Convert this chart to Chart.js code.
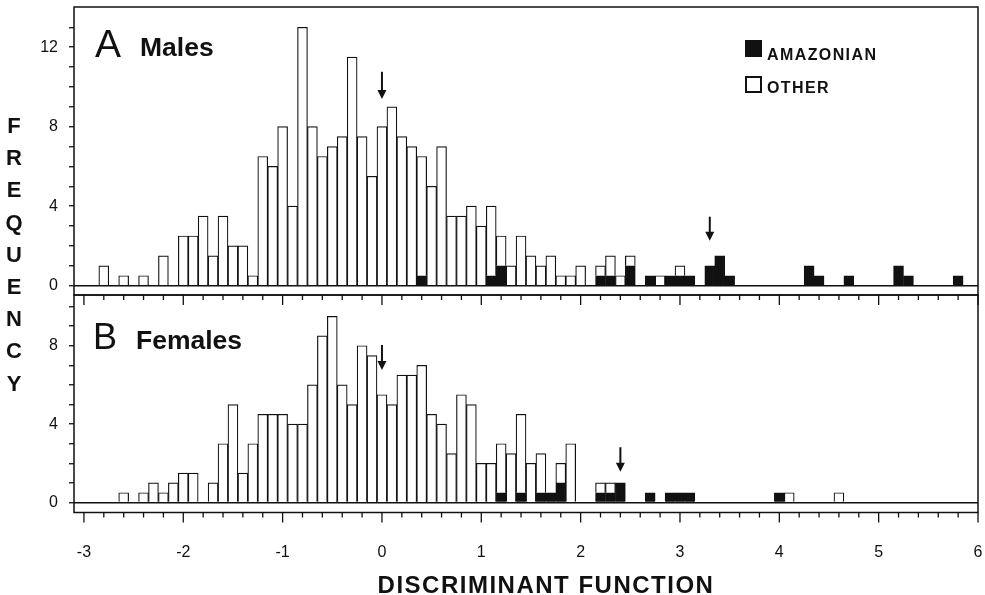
<!DOCTYPE html>
<html>
<head>
<meta charset="utf-8">
<script src="https://cdn.jsdelivr.net/npm/chart.js@4.4.1/dist/chart.umd.min.js"></script>
<style>
  body { margin: 0; background: #fff; }
  #wrap { position: relative; width: 985px; height: 595px; font-family: "Liberation Sans", Arial, sans-serif; color: #111; }
  canvas { position: absolute; left: 0; }
  .lbl { position: absolute; line-height: 1; white-space: nowrap; }
  .key { position: absolute; width: 17px; height: 17px; box-sizing: border-box; }
  #freq { position: absolute; left: 0; top: 110px; width: 28px; text-align: center; font-weight: bold; font-size: 22px; line-height: 32.2px; }
</style>
</head>
<body>
<div id="wrap">
  <canvas id="chartA" width="985" height="300" style="top:0"></canvas>
  <canvas id="chartB" width="985" height="305" style="top:290px"></canvas>

  <div class="lbl" style="left:95px;top:24px;font-size:39px;">A</div>
  <div class="lbl" style="left:140px;top:34px;font-size:26.5px;font-weight:bold;">Males</div>
  <div class="lbl" style="left:93px;top:319px;font-size:36px;">B</div>
  <div class="lbl" style="left:136px;top:327px;font-size:26.5px;font-weight:bold;">Females</div>

  <div class="key" style="left:745px;top:40px;background:#111;"></div>
  <div class="lbl" style="left:767px;top:46.5px;font-size:16px;font-weight:bold;letter-spacing:1.4px;">AMAZONIAN</div>
  <div class="key" style="left:745px;top:76px;border:2px solid #111;background:#fff;"></div>
  <div class="lbl" style="left:767px;top:79.5px;font-size:16px;font-weight:bold;letter-spacing:1.4px;">OTHER</div>

  <div id="freq">F<br>R<br>E<br>Q<br>U<br>E<br>N<br>C<br>Y</div>
  <div class="lbl" style="left:346px;top:573px;width:400px;text-align:center;font-size:24px;font-weight:bold;letter-spacing:1.5px;">DISCRIMINANT FUNCTION</div>
</div>

<script>
// histogram bins: centres every 0.1 from -2.9 to 5.9
const binStart = -2.9;
const binStep = 0.1;
const binCount = 89;

// Panel A (males), frequency per bin, rows of ten bins
const maleOther = [
  0, 1, 0, 0.5, 0, 0.5, 0, 1.5, 0, 2.5,        // -2.9 .. -2.0
  2.5, 3.5, 1.5, 3.5, 2, 2, 0.5, 6.5, 6, 8,     // -1.9 .. -1.0
  4, 13, 8, 6.5, 7, 7.5, 11.5, 7.5, 5.5, 8,     // -0.9 .. 0.0
  9, 7.5, 7, 6, 5, 7, 3.5, 3.5, 4, 3,           //  0.1 .. 1.0
  3.5, 1.5, 1, 2.5, 1.5, 1, 1.5, 0.5, 0.5, 1,   //  1.1 .. 2.0
  0, 0.5, 1, 0.5, 0.5, 0, 0, 0.5, 0, 0.5,       //  2.1 .. 3.0
  0, 0, 0, 0, 0, 0, 0, 0, 0, 0,                 //  3.1 .. 4.0
  0, 0, 0, 0, 0, 0, 0, 0, 0, 0,                 //  4.1 .. 5.0
  0, 0, 0, 0, 0, 0, 0, 0, 0                     //  5.1 .. 5.9
];
const maleAmazon = [
  0, 0, 0, 0, 0, 0, 0, 0, 0, 0,
  0, 0, 0, 0, 0, 0, 0, 0, 0, 0,
  0, 0, 0, 0, 0, 0, 0, 0, 0, 0,
  0, 0, 0, 0.5, 0, 0, 0, 0, 0, 0,
  0.5, 1, 0, 0, 0, 0, 0, 0, 0, 0,
  0, 0.5, 0.5, 0, 1, 0, 0.5, 0, 0.5, 0.5,
  0.5, 0, 1, 1.5, 0.5, 0, 0, 0, 0, 0,
  0, 0, 1, 0.5, 0, 0, 0.5, 0, 0, 0,
  0, 1, 0.5, 0, 0, 0, 0, 0.5, 0
];

// Panel B (females)
const femaleOther = [
  0, 0, 0, 0.5, 0, 0.5, 1, 0.5, 1, 1.5,
  1.5, 0, 1, 3, 5, 1.5, 3, 4.5, 4.5, 4.5,
  4, 4, 6, 8.5, 9.5, 6, 5, 8, 7.5, 5.5,
  5, 6.5, 6.5, 7, 4.5, 4, 2.5, 5.5, 5, 2,
  2, 2.5, 2.5, 4, 2, 2, 0, 1, 3, 0,
  0, 0.5, 0.5, 0, 0, 0, 0, 0, 0, 0,
  0, 0, 0, 0, 0, 0, 0, 0, 0, 0,
  0.5, 0, 0, 0, 0, 0.5, 0, 0, 0, 0,
  0, 0, 0, 0, 0, 0, 0, 0, 0
];
const femaleAmazon = [
  0, 0, 0, 0, 0, 0, 0, 0, 0, 0,
  0, 0, 0, 0, 0, 0, 0, 0, 0, 0,
  0, 0, 0, 0, 0, 0, 0, 0, 0, 0,
  0, 0, 0, 0, 0, 0, 0, 0, 0, 0,
  0, 0.5, 0, 0.5, 0, 0.5, 0.5, 1, 0, 0,
  0, 0.5, 0.5, 1, 0, 0, 0.5, 0, 0.5, 0.5,
  0.5, 0, 0, 0, 0, 0, 0, 0, 0, 0.5,
  0, 0, 0, 0, 0, 0, 0, 0, 0, 0,
  0, 0, 0, 0, 0, 0, 0, 0, 0
];

// group means marked by arrows
const arrowXA = [0, 3.3];
const arrowTopA = [10.76, 3.47];
const arrowTipA = [9.39, 2.26];
const arrowXB = [0, 2.4];
const arrowTopB = [8.04, 2.82];
const arrowTipB = [6.76, 1.57];

// axes
const xLabels = [-3, -2, -1, 0, 1, 2, 3, 4, 5, 6];
const yLabelsA = [0, 4, 8, 12];
const yLabelsB = [0, 4, 8];
const xMin = -3.1, xMax = 6;
const xMinorStep = 0.2;

const ink = '#111';
const family = '"Liberation Sans", Arial, sans-serif';

const bins = [];
for (let i = 0; i < binCount; i++) bins.push(Math.round((binStart + i * binStep) * 10) / 10);

function points(vals) {
  return bins.map((x, i) => ({ x: x, y: vals[i] ? vals[i] : null }));
}

function panelPlugin(arrowX, arrowTop, arrowTip, withXTicks) {
  return {
    id: 'panelFrame',
    afterDatasetsDraw(chart) {
      const { ctx, chartArea: a } = chart;
      const x = chart.scales.x, y = chart.scales.y;
      ctx.save();
      ctx.strokeStyle = ink;
      ctx.lineWidth = 1.5;
      ctx.strokeRect(a.left, a.top, a.right - a.left, a.bottom - a.top);

      if (withXTicks) {
        ctx.lineWidth = 1.3;
        ctx.beginPath();
        const n = Math.round((xLabels[xLabels.length - 1] - xLabels[0]) / xMinorStep);
        for (let k = 0; k <= n; k++) {
          const v = Math.round((xLabels[0] + k * xMinorStep) * 10) / 10;
          const px = x.getPixelForValue(v);
          const len = Number.isInteger(v) ? 10 : 5;
          ctx.moveTo(px, a.top); ctx.lineTo(px, a.top + len);
          ctx.moveTo(px, a.bottom); ctx.lineTo(px, a.bottom + len);
        }
        ctx.stroke();
      }

      ctx.fillStyle = ink;
      arrowX.forEach((ax, i) => {
        const px = x.getPixelForValue(ax);
        const y0 = y.getPixelForValue(arrowTop[i]);
        const y1 = y.getPixelForValue(arrowTip[i]);
        ctx.lineWidth = 2;
        ctx.beginPath();
        ctx.moveTo(px, y0);
        ctx.lineTo(px, y1 - 7);
        ctx.stroke();
        ctx.beginPath();
        ctx.moveTo(px - 4.5, y1 - 9);
        ctx.lineTo(px + 4.5, y1 - 9);
        ctx.lineTo(px, y1);
        ctx.closePath();
        ctx.fill();
      });
      ctx.restore();
    }
  };
}

function noPad(s) {
  s.paddingTop = 0; s.paddingBottom = 0; s.paddingLeft = 0; s.paddingRight = 0;
}

function buildChart(id, other, amazon, yMin, yMax, yTopTick, yLabels, arrows, bottomPanel) {
  const bar = { borderColor: ink, borderWidth: 1.2, barPercentage: 1, categoryPercentage: 1, stack: 's' };
  return new Chart(document.getElementById(id), {
    type: 'bar',
    data: {
      datasets: [
        Object.assign({ label: 'AMAZONIAN', data: points(amazon), backgroundColor: ink }, bar),
        Object.assign({ label: 'OTHER', data: points(other), backgroundColor: '#fff' }, bar)
      ]
    },
    options: {
      responsive: false,
      animation: false,
      devicePixelRatio: 1,
      events: [],
      layout: { autoPadding: false, padding: { left: 0, right: 7, top: bottomPanel ? 5 : 7, bottom: bottomPanel ? 0 : 5 } },
      plugins: { legend: { display: false }, tooltip: { enabled: false } },
      scales: {
        x: {
          type: 'linear', min: xMin, max: xMax, offset: false, stacked: true,
          display: bottomPanel,
          grid: { display: false, offset: false },
          border: { display: false },
          ticks: {
            stepSize: 1, includeBounds: false, autoSkip: false, maxRotation: 0,
            padding: 22, color: ink, font: { size: 16, family: family },
            callback: v => xLabels.includes(v) ? String(v) : ''
          },
          afterFit: s => { s.height = bottomPanel ? 82.5 : 0; noPad(s); }
        },
        y: {
          type: 'linear', min: yMin, max: yMax, stacked: true,
          border: { display: false },
          grid: {
            color: c => (c.tick && c.tick.value === 0) ? ink : 'rgba(0,0,0,0)',
            lineWidth: 1.5, tickLength: 5, tickColor: ink, tickWidth: 1.3
          },
          ticks: {
            stepSize: 1, includeBounds: false, autoSkip: false,
            padding: 11, color: ink, font: { size: 16, family: family },
            callback: v => yLabels.includes(v) ? String(v) : ''
          },
          afterBuildTicks: s => { s.ticks = s.ticks.filter(t => t.value >= 0 && t.value <= yTopTick); },
          afterFit: s => { s.width = 74; noPad(s); }
        }
      }
    },
    plugins: [panelPlugin(arrows[0], arrows[1], arrows[2], bottomPanel)]
  });
}

buildChart('chartA', maleOther, maleAmazon, -0.47, 14.02, 13, yLabelsA, [arrowXA, arrowTopA, arrowTipA], false);
buildChart('chartB', femaleOther, femaleAmazon, -0.51, 10.59, 10, yLabelsB, [arrowXB, arrowTopB, arrowTipB], true);
</script>
</body>
</html>
